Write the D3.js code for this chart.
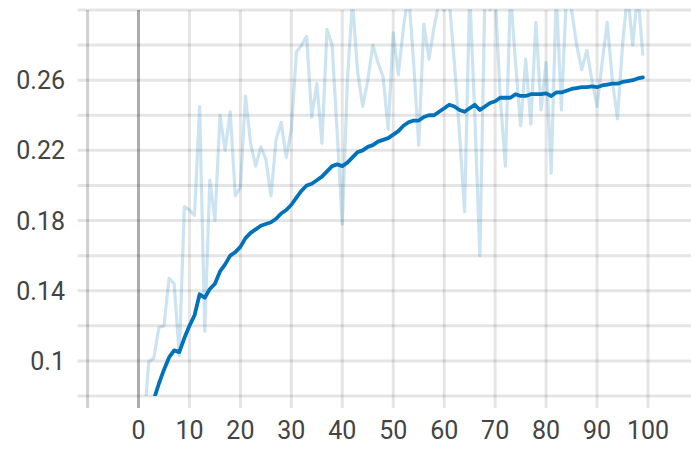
<!DOCTYPE html>
<html>
<head>
<meta charset="utf-8">
<script src="https://cdn.jsdelivr.net/npm/d3@7"></script>
<style>
  body { margin: 0; background: #fff; }
  text { font-family: Roboto, "Noto Sans", sans-serif; fill: #444; }
</style>
</head>
<body>
<svg width="691" height="450"></svg>
<script>
var svg = d3.select("svg");

// steps 0..99
var steps = d3.range(0, 100);

// raw values (light line), values above 0.30 are cut off by the plot top
var rawValues = [
  0.040, 0.060, 0.0996, 0.1016, 0.119, 0.120, 0.147, 0.144, 0.103, 0.188,
  0.186, 0.183, 0.245, 0.117, 0.203, 0.180, 0.240, 0.220, 0.242, 0.194,
  0.199, 0.251, 0.224, 0.211, 0.222, 0.215, 0.194, 0.226, 0.236, 0.216,
  0.232, 0.276, 0.280, 0.285, 0.239, 0.258, 0.224, 0.289, 0.280, 0.230,
  0.178, 0.260, 0.305, 0.265, 0.245, 0.260, 0.280, 0.270, 0.262, 0.232,
  0.287, 0.263, 0.290, 0.310, 0.270, 0.223, 0.292, 0.272, 0.290, 0.305,
  0.300, 0.305, 0.270, 0.230, 0.185, 0.310, 0.240, 0.160, 0.310, 0.300,
  0.310, 0.250, 0.211, 0.310, 0.270, 0.234, 0.272, 0.235, 0.293, 0.243,
  0.270, 0.207, 0.310, 0.243, 0.310, 0.300, 0.280, 0.266, 0.277, 0.260,
  0.245, 0.270, 0.293, 0.260, 0.238, 0.280, 0.310, 0.280, 0.310, 0.274
];

// smoothed values (dark line)
var smoothValues = [
  0.050, 0.058, 0.068, 0.078, 0.087, 0.095, 0.102, 0.106, 0.105, 0.113,
  0.120, 0.126, 0.138, 0.136, 0.141, 0.144, 0.151, 0.155, 0.160, 0.162,
  0.165, 0.170, 0.173, 0.175, 0.177, 0.178, 0.179, 0.181, 0.184, 0.186,
  0.189, 0.193, 0.197, 0.200, 0.201, 0.203, 0.205, 0.208, 0.211, 0.212,
  0.211, 0.213, 0.216, 0.219, 0.220, 0.222, 0.223, 0.225, 0.226, 0.227,
  0.229, 0.231, 0.234, 0.236, 0.237, 0.237, 0.239, 0.240, 0.240, 0.242,
  0.244, 0.246, 0.245, 0.243, 0.242, 0.244, 0.246, 0.243, 0.245, 0.247,
  0.248, 0.250, 0.250, 0.250, 0.252, 0.251, 0.251, 0.252, 0.252, 0.252,
  0.2525, 0.251, 0.253, 0.253, 0.254, 0.255, 0.2555, 0.256, 0.256, 0.2565,
  0.256, 0.257, 0.2575, 0.258, 0.258, 0.259, 0.2595, 0.260, 0.261, 0.2616
];

var xTicks = d3.range(-10, 101, 10);
var xLabels = d3.range(0, 101, 10);
var yTicks = d3.range(0.08, 0.3001, 0.02);
var yLabels = [0.1, 0.14, 0.18, 0.22, 0.26];

var x = d3.scaleLinear().domain([0, 100]).range([138.5, 648]);
var y = d3.scaleLinear().domain([0.08, 0.30]).range([396, 10]);

var plotLeft = x(-10), plotRight = 691, plotTop = y(0.30), plotBottom = y(0.08);

var grid = svg.append("g");

grid.selectAll(".hgrid")
    .data(yTicks)
  .enter().append("line")
    .attr("x1", plotLeft - 10)
    .attr("x2", plotRight)
    .attr("y1", function(d) { return y(d); })
    .attr("y2", function(d) { return y(d); })
    .attr("stroke", "rgba(0,0,0,0.1)")
    .attr("stroke-width", 3);

grid.selectAll(".vgrid")
    .data(xTicks)
  .enter().append("line")
    .attr("x1", function(d) { return x(d); })
    .attr("x2", function(d) { return x(d); })
    .attr("y1", plotTop)
    .attr("y2", plotBottom + 12)
    .attr("stroke", function(d) { return d === 0 ? "rgba(0,0,0,0.32)" : (d === -10 ? "rgba(0,0,0,0.18)" : "rgba(0,0,0,0.1)"); })
    .attr("stroke-width", 3);

svg.selectAll(".ylab")
    .data(yLabels)
  .enter().append("text")
    .attr("x", 65)
    .attr("y", function(d) { return y(d); })
    .attr("dy", "0.36em")
    .attr("text-anchor", "end")
    .attr("font-size", 25)
    .text(function(d) { return String(+d.toFixed(2)); });

svg.selectAll(".xlab")
    .data(xLabels)
  .enter().append("text")
    .attr("x", function(d) { return x(d); })
    .attr("y", 439)
    .attr("text-anchor", "middle")
    .attr("font-size", 25)
    .text(function(d) { return d; });

svg.append("clipPath").attr("id", "plotclip")
  .append("rect")
    .attr("x", plotLeft).attr("y", plotTop - 1)
    .attr("width", plotRight - plotLeft).attr("height", plotBottom - plotTop + 1);

var plot = svg.append("g").attr("clip-path", "url(#plotclip)");

var line = d3.line()
    .x(function(d, i) { return x(steps[i]); })
    .y(function(d) { return y(d); });

plot.append("path")
    .datum(rawValues)
    .attr("fill", "none")
    .attr("stroke", "#0077bb")
    .attr("stroke-opacity", 0.2)
    .attr("stroke-width", 3.2)
    .attr("stroke-linejoin", "round")
    .attr("d", line);

plot.append("path")
    .datum(smoothValues)
    .attr("fill", "none")
    .attr("stroke", "#0072bb")
    .attr("stroke-width", 3.8)
    .attr("stroke-linejoin", "round")
    .attr("stroke-linecap", "round")
    .attr("d", line);
</script>
</body>
</html>
